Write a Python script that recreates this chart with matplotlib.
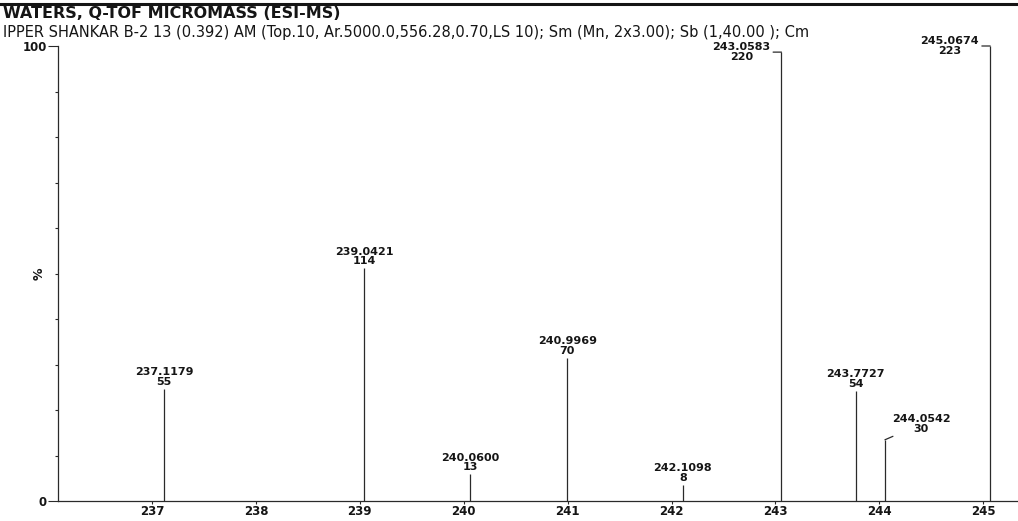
import matplotlib
matplotlib.use("Agg")
import matplotlib.pyplot as plt
from matplotlib.lines import Line2D
from matplotlib.ticker import MultipleLocator, FixedLocator

# Peak list: m/z and ion counts
mz = [237.1179, 239.0421, 240.0600, 240.9969, 242.1098,
      243.0583, 243.7727, 244.0542, 245.0674]
counts = [55, 114, 13, 70, 8, 220, 54, 30, 223]

x_ticks = [237, 238, 239, 240, 241, 242, 243, 244, 245]
y_ticks = [0, 100]
y_tick_labels = ["0", "100"]

title = "WATERS, Q-TOF MICROMASS (ESI-MS)"
subtitle = ("IPPER SHANKAR B-2 13 (0.392) AM (Top.10, Ar.5000.0,556.28,0.70,LS 10); "
            "Sm (Mn, 2x3.00); Sb (1,40.00 ); Cm")

# relative abundance (% of base peak)
base = max(counts)
rel = [c / base * 100.0 for c in counts]

W, H = 1018, 521
fig = plt.figure(figsize=(W / 100, H / 100), dpi=100)
fig.patch.set_facecolor("white")

ink = "#151515"
line_col = "#2a2a2a"
font = "DejaVu Sans"

ax = fig.add_axes([58 / W, 20 / H, (W - 58) / W, 455 / H])
ax.set_xlim(236.095, 245.335)
ax.set_ylim(0, 100)

ax.vlines(mz, 0, rel, color=line_col, lw=0.9)

# label placement for crowded peaks
left_labels = {5, 8}
right_labels = {7}

for i, (m, c, r) in enumerate(zip(mz, counts, rel)):
    txt = f"{m:.4f}\n{c}"
    kw = dict(fontsize=8, fontweight="bold", family=font, color=ink,
              linespacing=0.95, multialignment="center",
              textcoords="offset points", annotation_clip=False)
    if i in left_labels:
        ax.annotate(txt, (m, r), xytext=(-8, 0), ha="right", va="center",
                    arrowprops=dict(arrowstyle="-", color=line_col, lw=0.9,
                                    shrinkA=0, shrinkB=0, relpos=(1.0, 0.5)),
                    **kw)
    elif i in right_labels:
        ax.annotate(txt, (m, r), xytext=(26, 4.5), ha="center", va="bottom",
                    arrowprops=dict(arrowstyle="-", color=line_col, lw=0.9,
                                    shrinkA=0, shrinkB=0, relpos=(0.13, 0.0)),
                    **kw)
    else:
        ax.annotate(txt, (m, r), xytext=(0, 1.5), ha="center", va="bottom", **kw)

# axes styling
for s in ("top", "right"):
    ax.spines[s].set_visible(False)
for s in ("left", "bottom"):
    ax.spines[s].set_color(line_col)
    ax.spines[s].set_linewidth(0.9)

ax.xaxis.set_major_locator(FixedLocator(x_ticks))
ax.set_xticklabels([str(t) for t in x_ticks])
ax.yaxis.set_major_locator(FixedLocator(y_ticks))
ax.set_yticklabels(y_tick_labels)
ax.yaxis.set_minor_locator(MultipleLocator(10))

ax.tick_params(axis="x", direction="out", length=2, width=0.8, pad=1,
               colors=line_col, labelcolor=ink, labelsize=8.5)
ax.tick_params(axis="y", which="major", direction="out", length=7, width=0.8,
               pad=1, colors=line_col, labelcolor=ink, labelsize=8.5)
ax.tick_params(axis="y", which="minor", direction="out", length=2.5, width=0.8,
               colors=line_col)
for lab in ax.get_xticklabels() + ax.get_yticklabels():
    lab.set_fontweight("bold")
    lab.set_family(font)

ax.set_ylabel("%", fontsize=9, fontweight="bold", family=font, color=ink)
ax.yaxis.set_label_coords(-12 / (W - 58), 0.5)

# header
fig.add_artist(Line2D([0, 1], [1 - 3.5 / H] * 2, transform=fig.transFigure,
                      color=ink, lw=2.2))
fig.text(3 / W, 1 - 14 / H, title, fontsize=11.5, fontweight="bold",
         family=font, color=ink, va="center", ha="left")
fig.text(3 / W, 1 - 32 / H, subtitle, fontsize=10.5, family=font,
         color=ink, va="center", ha="left")

fig.savefig("out.png", dpi=100, facecolor="white")
